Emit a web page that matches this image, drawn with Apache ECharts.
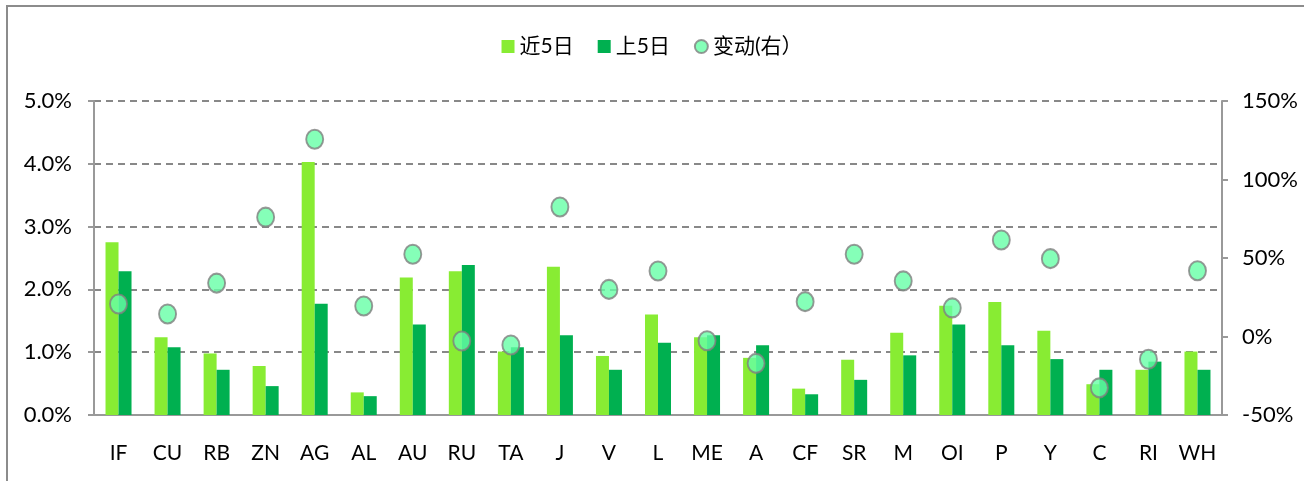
<!DOCTYPE html>
<html>
<head>
<meta charset="utf-8">
<script src="https://cdn.jsdelivr.net/npm/echarts@6/dist/echarts.min.js"></script>
<style>
  html, body { margin: 0; padding: 0; background: #fff; }
  #chart { width: 1304px; height: 481px; }
</style>
</head>
<body>
<div id="chart"></div>
<script>
// 品种
const categories = ["IF", "CU", "RB", "ZN", "AG", "AL", "AU", "RU", "TA", "J", "V", "L",
  "ME", "A", "CF", "SR", "M", "OI", "P", "Y", "C", "RI", "WH"];
// 近5日 (%)
const recent5 = [2.75, 1.24, 0.98, 0.78, 4.03, 0.36, 2.19, 2.29, 1.01, 2.36, 0.94, 1.60,
  1.24, 0.91, 0.42, 0.88, 1.31, 1.74, 1.80, 1.34, 0.49, 0.72, 1.01];
// 上5日 (%)
const prev5 = [2.29, 1.08, 0.72, 0.46, 1.77, 0.30, 1.44, 2.39, 1.08, 1.27, 0.72, 1.15,
  1.27, 1.11, 0.33, 0.56, 0.95, 1.44, 1.11, 0.89, 0.72, 0.85, 0.72];
// 变动 (%), 右轴
const change = [20.7, 14.3, 34, 76, 125.6, 19.4, 52.4, -2.9, -5.4, 82.5, 30, 41.7,
  -2.7, -17.1, 22.2, 52.4, 35.4, 18.2, 61.5, 49.6, -32.7, -14.5, 41.9];

const font = "Lato, 'Noto Sans CJK SC', sans-serif";
const gray = "#8c8c8c";

const chart = echarts.init(document.getElementById("chart"));
chart.setOption({
  animation: false,
  textStyle: { fontFamily: font, color: "#000" },
  graphic: [{
    type: "rect",
    shape: { x: 7, y: 6, width: 1320, height: 500 },
    style: { fill: "none", stroke: gray, lineWidth: 2 },
    silent: true
  }],
  legend: {
    top: 31,
    left: "center",
    itemWidth: 13,
    itemHeight: 13,
    itemGap: 24,
    textStyle: { fontSize: 21, color: "#000", fontFamily: font },
    data: [
      { name: "近5日", icon: "rect" },
      { name: "上5日", icon: "rect" },
      { name: "变动(右）", icon: "circle" }
    ]
  },
  grid: { left: 94, right: 82, top: 101, bottom: 66 },
  xAxis: {
    type: "category",
    data: categories,
    axisLine: { lineStyle: { color: "#999", width: 2 } },
    axisTick: { show: false },
    axisLabel: { fontSize: 21, margin: 28, color: "#000", interval: 0 }
  },
  yAxis: [
    {
      type: "value",
      min: 0, max: 5, interval: 1,
      axisLine: { show: true, lineStyle: { color: "#999", width: 2 } },
      axisTick: { show: true, length: 6, lineStyle: { color: "#999", width: 2 } },
      axisLabel: { fontSize: 22, margin: 22, color: "#000", formatter: v => v.toFixed(1) + "%" },
      splitLine: { lineStyle: { color: "#888", width: 2, type: [7, 5] } }
    },
    {
      type: "value",
      min: -50, max: 150, interval: 50,
      axisLine: { show: true, lineStyle: { color: "#999", width: 2 } },
      axisTick: { show: true, length: 6, lineStyle: { color: "#999", width: 2 } },
      axisLabel: { fontSize: 22, margin: 20, color: "#000", formatter: v => v + "%" },
      splitLine: { show: false }
    }
  ],
  series: [
    {
      name: "近5日",
      type: "bar",
      data: recent5,
      barWidth: 13,
      barGap: "0%",
      itemStyle: { color: "#88ec33" }
    },
    {
      name: "上5日",
      type: "bar",
      data: prev5,
      barWidth: 13,
      itemStyle: { color: "#00b050" }
    },
    {
      name: "变动(右）",
      type: "scatter",
      yAxisIndex: 1,
      data: change,
      symbol: "circle",
      symbolSize: [17, 19],
      itemStyle: { color: "#66ffa6", borderColor: "#808080", borderWidth: 2 },
      z: 5
    }
  ]
});
</script>
</body>
</html>
